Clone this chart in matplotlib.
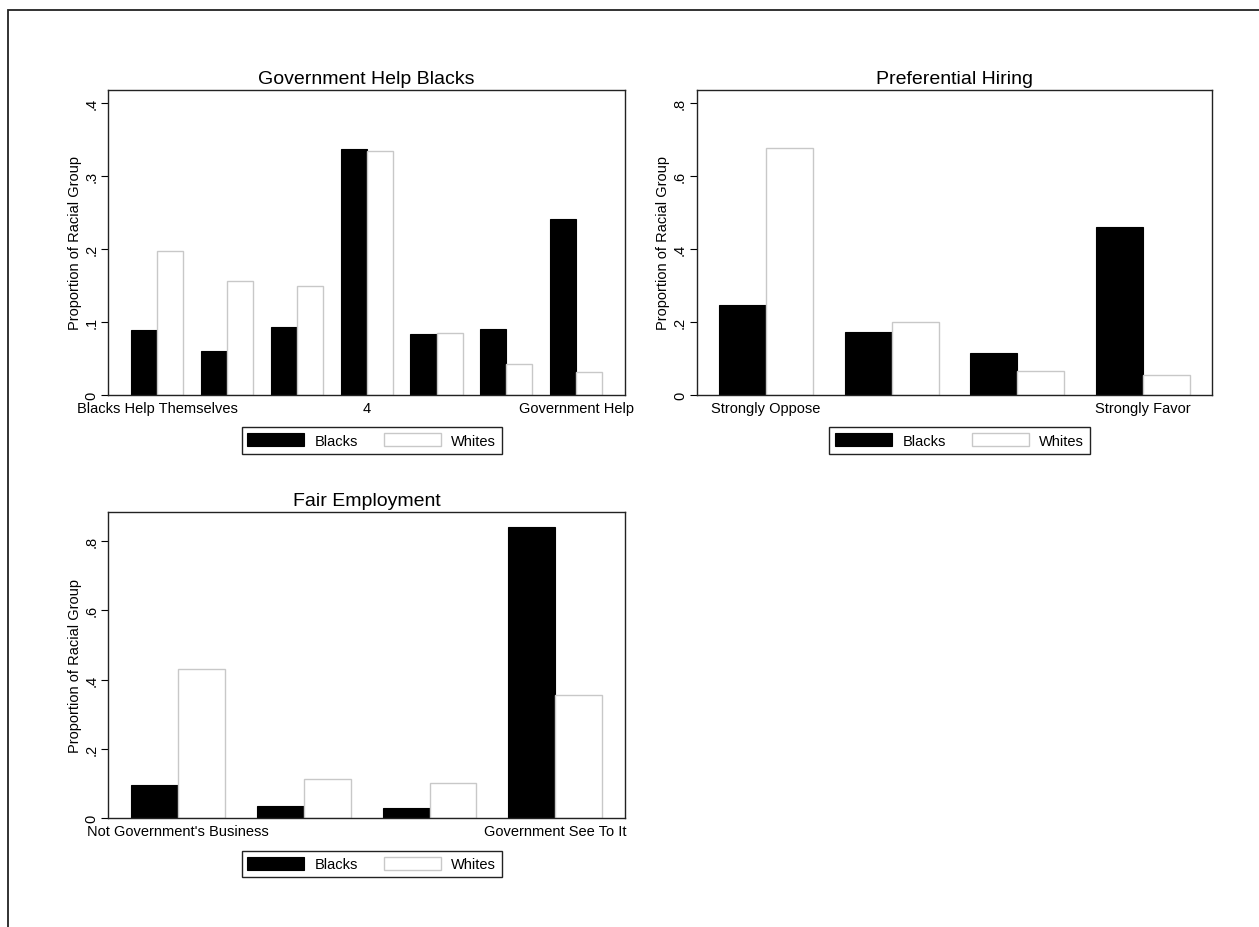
import matplotlib
matplotlib.use("Agg")
import matplotlib.pyplot as plt
from matplotlib.patches import Patch, Rectangle
import numpy as np

plt.rcParams['font.family'] = ['Liberation Sans', 'DejaVu Sans']

# Government Help Blacks (7-point scale)
help_positions = [1, 2, 3, 4, 5, 6, 7]
help_ticklabels = {0: "Blacks Help Themselves", 3: "4", 6: "Government Help"}
help_blacks = [0.089, 0.060, 0.093, 0.338, 0.084, 0.090, 0.241]
help_whites = [0.198, 0.156, 0.150, 0.334, 0.085, 0.043, 0.031]
help_yticks = [0, 0.1, 0.2, 0.3, 0.4]
help_yticklabels = ["0", ".1", ".2", ".3", ".4"]

# Preferential Hiring (4-point scale)
hiring_positions = [1, 2, 3, 4]
hiring_ticklabels = {0: "Strongly Oppose", 3: "Strongly Favor"}
hiring_blacks = [0.248, 0.173, 0.116, 0.460]
hiring_whites = [0.677, 0.201, 0.067, 0.055]
hiring_yticks = [0, 0.2, 0.4, 0.6, 0.8]
hiring_yticklabels = ["0", ".2", ".4", ".6", ".8"]

# Fair Employment (4-point scale)
fair_positions = [1, 2, 3, 4]
fair_ticklabels = {0: "Not Government's Business", 3: "Government See To It"}
fair_blacks = [0.095, 0.035, 0.029, 0.839]
fair_whites = [0.430, 0.112, 0.101, 0.354]
fair_yticks = [0, 0.2, 0.4, 0.6, 0.8]
fair_yticklabels = ["0", ".2", ".4", ".6", ".8"]

groups = ["Blacks", "Whites"]

W, H = 1259, 928
fig = plt.figure(figsize=(W / 100, H / 100), dpi=100)
fig.patch.set_facecolor("white")

# outer graph frame (continues past the right and bottom edges)
fig.add_artist(Rectangle((7.5 / W, -0.1), 1.2, 1 - 10.7 / H + 0.1,
                         transform=fig.transFigure, fill=False,
                         edgecolor="#222222", linewidth=1.3))

BAR_W = 0.3727
EDGE_FRAC = 0.044
WHITE_EDGE = "#c8c8c8"
FS = 10.5


def panel(rect, title, positions, ticklabels, blacks, whites, yticks, yticklabels, ymax):
    ax = fig.add_axes(rect)
    n = len(positions)
    x = np.arange(n)
    ax.bar(x - BAR_W / 2, blacks, width=BAR_W, color="black", edgecolor="black",
           linewidth=0.8, zorder=2)
    ax.bar(x + BAR_W / 2, whites, width=BAR_W, color="white", edgecolor=WHITE_EDGE,
           linewidth=1.0, zorder=2)
    span = ((n - 1) + 2 * BAR_W) / (1 - 2 * EDGE_FRAC)
    m = EDGE_FRAC * span
    ax.set_xlim(-BAR_W - m, (n - 1) + BAR_W + m)
    ax.set_ylim(0, ymax)

    ax.set_yticks(yticks)
    ax.set_yticklabels(yticklabels, rotation=90, va="center")
    ax.tick_params(axis="y", direction="out", length=5, width=0.8, pad=2,
                   labelsize=FS, colors="black")
    idx = sorted(ticklabels)
    ax.set_xticks(idx)
    ax.set_xticklabels([ticklabels[i] for i in idx])
    ax.tick_params(axis="x", length=0, pad=4, labelsize=FS, colors="black")

    ax.set_ylabel("Proportion of Racial Group", fontsize=FS, labelpad=2)
    ax.set_title(title, fontsize=14, pad=5)
    for s in ax.spines.values():
        s.set_color("#222222")
        s.set_linewidth(1.0)

    handles = [Patch(facecolor="black", edgecolor="black", linewidth=0.8),
               Patch(facecolor="white", edgecolor=WHITE_EDGE, linewidth=1.0)]
    leg = ax.legend(handles, groups, loc="upper center", bbox_to_anchor=(0.51, -0.106),
                    ncol=2, fontsize=FS, frameon=True, fancybox=False,
                    edgecolor="#222222", framealpha=1, handlelength=3.9,
                    handleheight=1.0, handletextpad=0.7, columnspacing=1.8,
                    borderpad=0.4, borderaxespad=0)
    leg.get_frame().set_linewidth(1.0)
    return ax


def fig_rect(left, top, right, bottom):
    return [left / W, 1 - bottom / H, (right - left) / W, (bottom - top) / H]


panel(fig_rect(108.3, 90.7, 625.0, 396.0), "Government Help Blacks",
      help_positions, help_ticklabels, help_blacks, help_whites,
      help_yticks, help_yticklabels, 0.4187)
panel(fig_rect(696.7, 90.7, 1212.3, 396.0), "Preferential Hiring",
      hiring_positions, hiring_ticklabels, hiring_blacks, hiring_whites,
      hiring_yticks, hiring_yticklabels, 0.8374)
panel(fig_rect(108.3, 512.7, 625.0, 819.3), "Fair Employment",
      fair_positions, fair_ticklabels, fair_blacks, fair_whites,
      fair_yticks, fair_yticklabels, 0.8836)

fig.savefig("out.png", dpi=100, facecolor="white")
